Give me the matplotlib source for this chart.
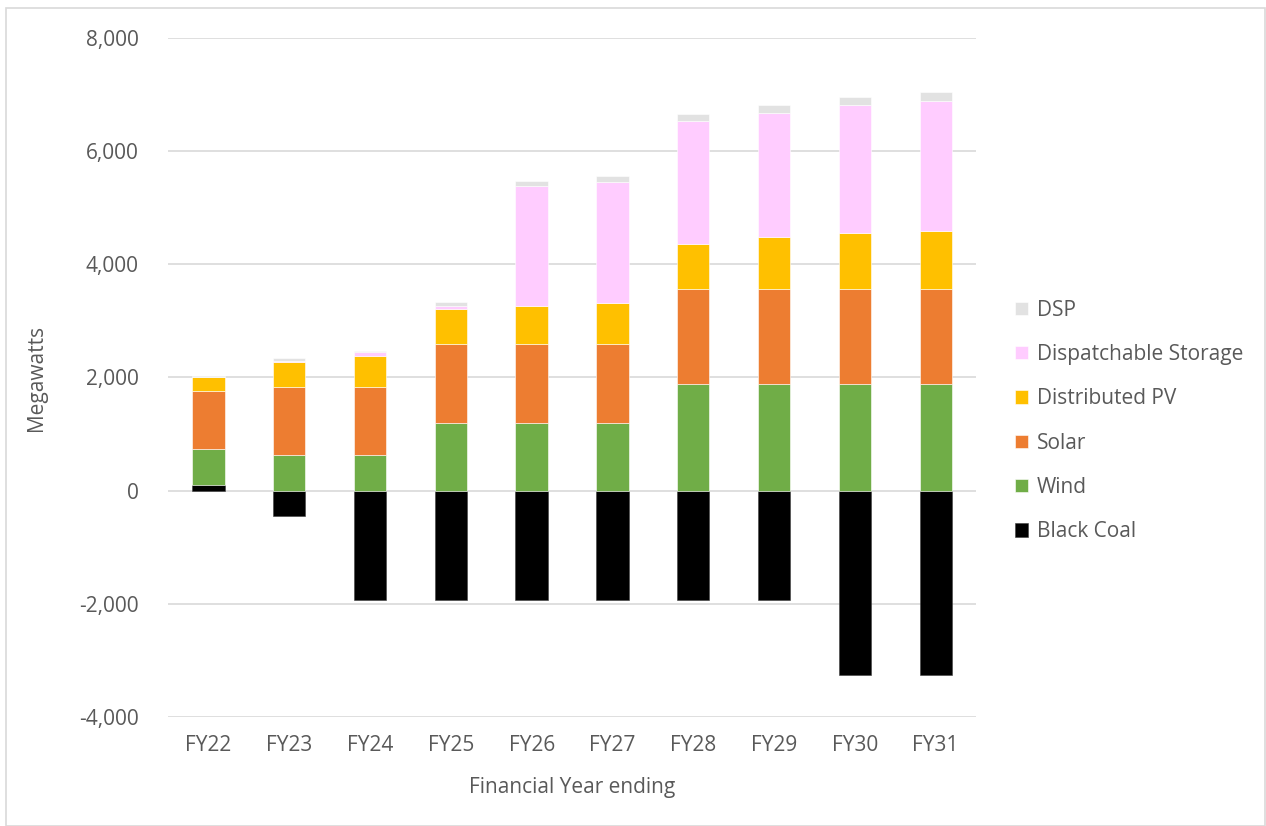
import numpy as np
import matplotlib
matplotlib.use("Agg")
import matplotlib.pyplot as plt
from matplotlib.patches import Rectangle

plt.rcParams['font.family'] = ['Open Sans', 'DejaVu Sans']

years = ["FY22", "FY23", "FY24", "FY25", "FY26", "FY27", "FY28", "FY29", "FY30", "FY31"]

# megawatts by technology, bottom of the stack first
black_coal = [100, -447, -1925, -1925, -1925, -1925, -1925, -1925, -3255, -3255]
wind = [636, 630, 630, 1196, 1196, 1196, 1876, 1876, 1876, 1876]
solar = [1029, 1193, 1193, 1388, 1388, 1388, 1695, 1695, 1695, 1695]
distributed_pv = [237, 454, 565, 630, 688, 741, 787, 911, 982, 1017]
storage = [10, 23, 60, 58, 2110, 2135, 2172, 2196, 2266, 2295]
dsp = [15, 42, 18, 66, 83, 99, 118, 141, 147, 165]

series = [
    ("Black Coal", black_coal, "#000000"),
    ("Wind", wind, "#70ad47"),
    ("Solar", solar, "#ed7d31"),
    ("Distributed PV", distributed_pv, "#ffc000"),
    ("Dispatchable Storage", storage, "#ffccff"),
    ("DSP", dsp, "#e2e2e2"),
]

fig = plt.figure(figsize=(12.66, 8.26), dpi=100)
ax = fig.add_axes([0.1327, 0.132, 0.6383, 0.822])

x = np.arange(len(years))
pos_base = np.zeros(len(years))
neg_base = np.zeros(len(years))
handles = []
for name, vals, col in series:
    v = np.array(vals, dtype=float)
    bottom = np.where(v >= 0, pos_base, neg_base)
    edge = "#404040" if col == "#000000" else "white"
    b = ax.bar(x, v, 0.4, bottom=bottom, color=col, edgecolor=edge,
               linewidth=0.4, label=name, zorder=3)
    handles.append(b)
    pos_base = pos_base + np.where(v >= 0, v, 0)
    neg_base = neg_base + np.where(v < 0, v, 0)

ax.set_xlim(-0.5, len(years) - 0.5)
ax.set_ylim(-4000, 8000)
ax.set_yticks(np.arange(-4000, 8001, 2000))
ax.yaxis.set_major_formatter(matplotlib.ticker.FuncFormatter(lambda v, p: f"{int(v):,}"))
ax.set_xticks(x)
ax.set_xticklabels(years)
ax.grid(axis='y', color="#d9d9d9", linewidth=1.2, zorder=0)
for s in ax.spines.values():
    s.set_visible(False)
ax.tick_params(length=0, labelsize=15, labelcolor="#595959")
ax.tick_params(axis='y', pad=21)
ax.tick_params(axis='x', pad=13)

ax.set_ylabel("Megawatts", fontsize=15, color="#595959", labelpad=23)
ax.set_xlabel("Financial Year ending", fontsize=15, color="#595959", labelpad=15)

leg = ax.legend(handles[::-1], [s[0] for s in series][::-1], loc='center left',
                bbox_to_anchor=(1.025, 0.436), frameon=False, fontsize=15,
                labelcolor="#595959", handlelength=0.6, handleheight=0.6,
                handletextpad=0.45, labelspacing=1.12)

fig.patches.append(Rectangle((0.005, 0.0), 0.994, 0.99, transform=fig.transFigure,
                             fill=False, edgecolor="#d9d9d9", linewidth=1.2))

fig.savefig("out.png", dpi=100)
